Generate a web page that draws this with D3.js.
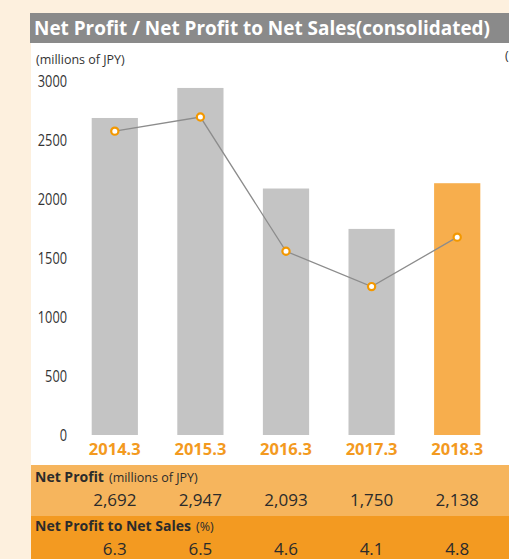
<!DOCTYPE html>
<html>
<head>
<meta charset="utf-8">
<script src="https://cdn.jsdelivr.net/npm/d3@7"></script>
<style>
  html, body { margin: 0; padding: 0; background: #fdf0de; }
  svg { display: block; }
</style>
</head>
<body>
<svg id="chart" width="509" height="559"></svg>
<script>
// Fiscal years and results
const years = ["2014.3", "2015.3", "2016.3", "2017.3", "2018.3"];
const netProfit = [2692, 2947, 2093, 1750, 2138];          // millions of JPY
const profitRatio = [6.3, 6.5, 4.6, 4.1, 4.8];             // % of net sales
const profitTicks = [0, 500, 1000, 1500, 2000, 2500, 3000];
const ratioDomain = [2, 7];

const svg = d3.select("#chart");
const W = 509, H = 559;
const panelX = 31;
const font = "'Open Sans', 'Noto Sans', sans-serif";

// cream page background
svg.append("rect").attr("width", W).attr("height", H).attr("fill", "#fdf0de");
// white chart panel
svg.append("rect").attr("x", panelX).attr("y", 13).attr("width", W - panelX).attr("height", H - 13).attr("fill", "#ffffff");

// title bar
svg.append("rect").attr("x", panelX - 1).attr("y", 13).attr("width", W - panelX + 1).attr("height", 30).attr("fill", "#8a8a8a");
svg.append("text")
  .attr("x", 34).attr("y", 35)
  .attr("font-family", font).attr("font-weight", 700).attr("font-size", 19)
  .attr("fill", "#ffffff")
  .attr("textLength", 456).attr("lengthAdjust", "spacingAndGlyphs")
  .text("Net Profit / Net Profit to Net Sales(consolidated)");

// unit labels
svg.append("text")
  .attr("x", 36).attr("y", 64)
  .attr("font-family", font).attr("font-size", 12.5).attr("fill", "#333")
  .text("(millions of JPY)");
// right-hand (%) unit label runs off the panel edge
svg.append("text")
  .attr("x", 505).attr("y", 60)
  .attr("font-family", font).attr("font-size", 12.5).attr("fill", "#333")
  .text("(%)");

// scales
const x = d3.scaleBand().domain(years).range([72, 500]).paddingInner(0.46).paddingOuter(0.23);
const y = d3.scaleLinear().domain([0, 3000]).range([435, 81.7]);
const yR = d3.scaleLinear().domain(ratioDomain).range([435, 81.7]);

// left axis (labels only, narrow digits)
const yAxis = svg.append("g")
  .attr("transform", "translate(67,0)")
  .call(d3.axisLeft(y).tickValues(profitTicks).tickSize(0).tickPadding(0).tickFormat(d3.format("d")));
yAxis.select(".domain").remove();
yAxis.selectAll("text")
  .attr("font-family", font)
  .attr("font-size", 17).attr("fill", "#333")
  .attr("dy", "0.3em")
  .attr("textLength", d => String(d).length * 7.3)
  .attr("lengthAdjust", "spacingAndGlyphs");

// bars
svg.append("g").selectAll("rect")
  .data(years)
  .join("rect")
  .attr("x", d => x(d))
  .attr("width", x.bandwidth())
  .attr("y", (d, i) => y(netProfit[i]))
  .attr("height", (d, i) => y(0) - y(netProfit[i]))
  .attr("fill", (d, i) => i === years.length - 1 ? "#f7ae4d" : "#c4c4c4");

// ratio line
const cx = d => x(d) + x.bandwidth() / 2;
svg.append("path")
  .datum(years)
  .attr("fill", "none")
  .attr("stroke", "#8c8c8c")
  .attr("stroke-width", 1.3)
  .attr("d", d3.line().x(d => cx(d)).y((d, i) => yR(profitRatio[i])));
svg.append("g").selectAll("circle")
  .data(years)
  .join("circle")
  .attr("cx", d => cx(d))
  .attr("cy", (d, i) => yR(profitRatio[i]))
  .attr("r", 3.6)
  .attr("fill", "#ffffff")
  .attr("stroke", "#f39800")
  .attr("stroke-width", 2.2);

// year labels
const xAxis = svg.append("g")
  .attr("transform", "translate(0,436)")
  .call(d3.axisBottom(x).tickSize(0).tickPadding(0));
xAxis.select(".domain").remove();
xAxis.selectAll("text")
  .attr("font-family", font).attr("font-weight", 700).attr("font-size", 16.5)
  .attr("fill", "#f39a1f")
  .attr("dy", "1.15em");

// data table
svg.append("rect").attr("x", panelX).attr("y", 465).attr("width", W - panelX).attr("height", 51).attr("fill", "#f6b55d");
svg.append("rect").attr("x", panelX).attr("y", 516).attr("width", W - panelX).attr("height", 43).attr("fill", "#f39a21");

const row1 = svg.append("text").attr("x", 35).attr("y", 482).attr("font-family", font).attr("fill", "#2b2b2b");
row1.append("tspan").attr("font-weight", 700).attr("font-size", 14).text("Net Profit");
row1.append("tspan").attr("font-size", 12.5).attr("dx", 5).text("(millions of JPY)");

const row2 = svg.append("text").attr("x", 35).attr("y", 531).attr("font-family", font).attr("fill", "#2b2b2b");
row2.append("tspan").attr("font-weight", 700).attr("font-size", 14).text("Net Profit to Net Sales");
row2.append("tspan").attr("font-size", 12.5).attr("dx", 5).text("(%)");

svg.append("g").selectAll("text")
  .data(years)
  .join("text")
  .attr("x", d => cx(d))
  .attr("y", 506)
  .attr("text-anchor", "middle")
  .attr("font-family", font).attr("font-size", 17).attr("fill", "#2b2b2b")
  .text((d, i) => d3.format(",")(netProfit[i]));

svg.append("g").selectAll("text")
  .data(years)
  .join("text")
  .attr("x", d => cx(d))
  .attr("y", 555)
  .attr("text-anchor", "middle")
  .attr("font-family", font).attr("font-size", 17).attr("fill", "#2b2b2b")
  .text((d, i) => d3.format(".1f")(profitRatio[i]));
</script>
</body>
</html>
